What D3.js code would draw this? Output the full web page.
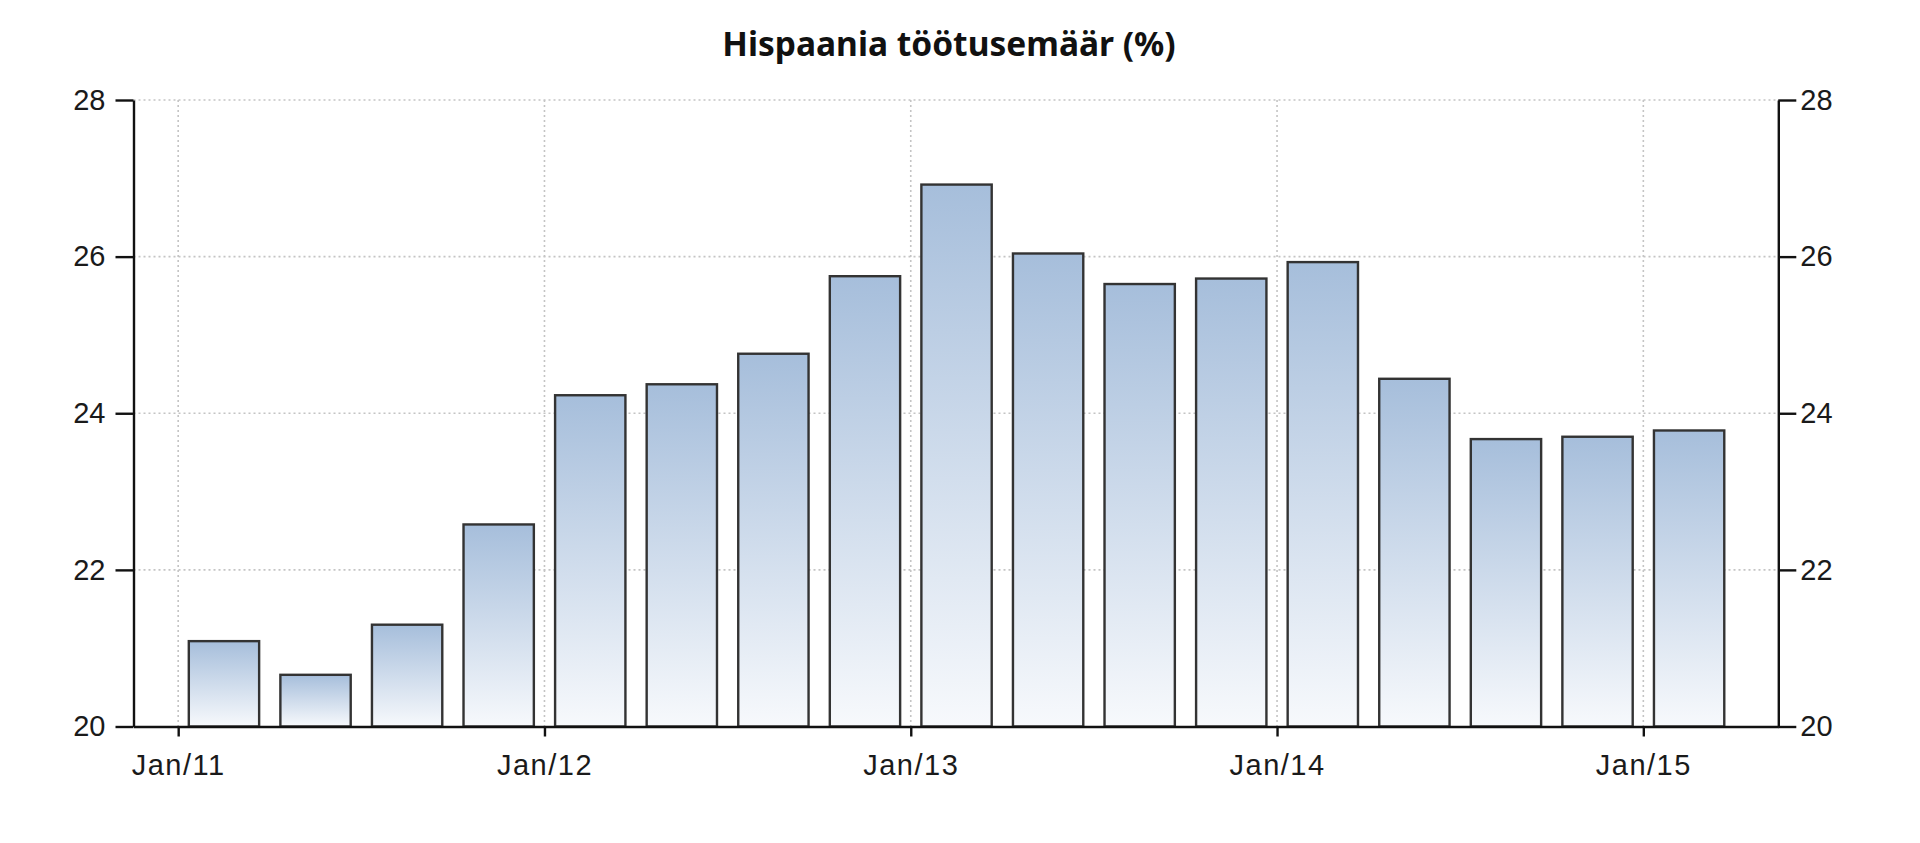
<!DOCTYPE html>
<html>
<head>
<meta charset="utf-8">
<script src="https://cdn.jsdelivr.net/npm/d3@7"></script>
<style>
  html, body { margin: 0; padding: 0; background: #ffffff; }
  svg { display: block; }
</style>
</head>
<body>
<svg id="chart" width="1920" height="843"></svg>
<script>
// ---- data ----
const titleText = "Hispaania töötusemäär (%)";
const quarters = ["2011Q1","2011Q2","2011Q3","2011Q4","2012Q1","2012Q2","2012Q3","2012Q4",
                  "2013Q1","2013Q2","2013Q3","2013Q4","2014Q1","2014Q2","2014Q3","2014Q4","2015Q1"];
const values = [21.09, 20.66, 21.30, 22.58, 24.23, 24.37, 24.76, 25.75,
                26.92, 26.04, 25.65, 25.72, 25.93, 24.44, 23.67, 23.70, 23.78];
const xTickPositions = [0, 4, 8, 12, 16];   // quarter index of each January
const xTickLabels = ["Jan/11", "Jan/12", "Jan/13", "Jan/14", "Jan/15"];
const yTicks = [20, 22, 24, 26, 28];

// ---- layout ----
const W = 1920, H = 843;
const plot = { left: 133.5, right: 1778.3, top: 100, bottom: 726.5 };

const svg = d3.select("#chart");

const x = d3.scaleLinear().domain([-0.488, 17.474]).range([plot.left, plot.right]);
const y = d3.scaleLinear().domain([20, 28]).range([plot.bottom, plot.top]);

// gradient
const defs = svg.append("defs");
const grad = defs.append("linearGradient").attr("id", "barGrad")
  .attr("x1", 0).attr("y1", 0).attr("x2", 0).attr("y2", 1);
grad.append("stop").attr("offset", "0%").attr("stop-color", "#a6bedb");
grad.append("stop").attr("offset", "100%").attr("stop-color", "#f7f9fc");

// title
svg.append("text")
  .attr("x", 949).attr("y", 56)
  .attr("text-anchor", "middle")
  .attr("font-family", "'Noto Sans', 'Open Sans', sans-serif")
  .attr("font-weight", "bold")
  .attr("font-size", 33.5)
  .attr("fill", "#111")
  .text(titleText);

// gridlines
const grid = svg.append("g").attr("class", "grid");
grid.selectAll("line.h").data(yTicks.filter(d => d > 20)).join("line")
  .attr("class", "h")
  .attr("x1", plot.left).attr("x2", plot.right)
  .attr("y1", d => y(d)).attr("y2", d => y(d))
  .attr("stroke", "#c4c4c4").attr("stroke-width", 1.6).attr("stroke-dasharray", "2,3");
grid.selectAll("line.v").data(xTickPositions).join("line")
  .attr("class", "v")
  .attr("x1", d => x(d)).attr("x2", d => x(d))
  .attr("y1", plot.top).attr("y2", plot.bottom)
  .attr("stroke", "#c4c4c4").attr("stroke-width", 1.6).attr("stroke-dasharray", "2,3");

// bars
svg.append("g").selectAll("rect").data(values).join("rect")
  .attr("x", (d, i) => x(i + 0.116))
  .attr("width", (d, i) => x(i + 0.884) - x(i + 0.116))
  .attr("y", d => y(d))
  .attr("height", d => y(20) - y(d))
  .attr("fill", "url(#barGrad)")
  .attr("stroke", "#333")
  .attr("stroke-width", 2.4);

// axes
const fontFam = "'Liberation Sans', Arial, sans-serif";
function styleAxis(g) {
  g.selectAll("path.domain").attr("stroke", "#111").attr("stroke-width", 2.4);
  g.selectAll(".tick line").attr("stroke", "#111").attr("stroke-width", 2.4);
  g.selectAll(".tick text").attr("fill", "#1a1a1a").attr("font-family", fontFam).attr("font-size", 29);
}

const leftAxis = svg.append("g")
  .attr("transform", `translate(${plot.left},0)`)
  .call(d3.axisLeft(y).tickValues(yTicks).tickSize(18).tickSizeOuter(0).tickPadding(10).tickFormat(d3.format("d")));
styleAxis(leftAxis);

const rightAxis = svg.append("g")
  .attr("transform", `translate(${plot.right},0)`)
  .call(d3.axisRight(y).tickValues(yTicks).tickSize(18).tickSizeOuter(0).tickPadding(4).tickFormat(d3.format("d")));
styleAxis(rightAxis);

const bottomAxis = svg.append("g")
  .attr("transform", `translate(0,${plot.bottom})`)
  .call(d3.axisBottom(x).tickValues(xTickPositions).tickSize(10).tickSizeOuter(0).tickPadding(18)
        .tickFormat((d, i) => xTickLabels[i]));
styleAxis(bottomAxis);
bottomAxis.selectAll(".tick text").attr("letter-spacing", 1.5);
</script>
</body>
</html>
